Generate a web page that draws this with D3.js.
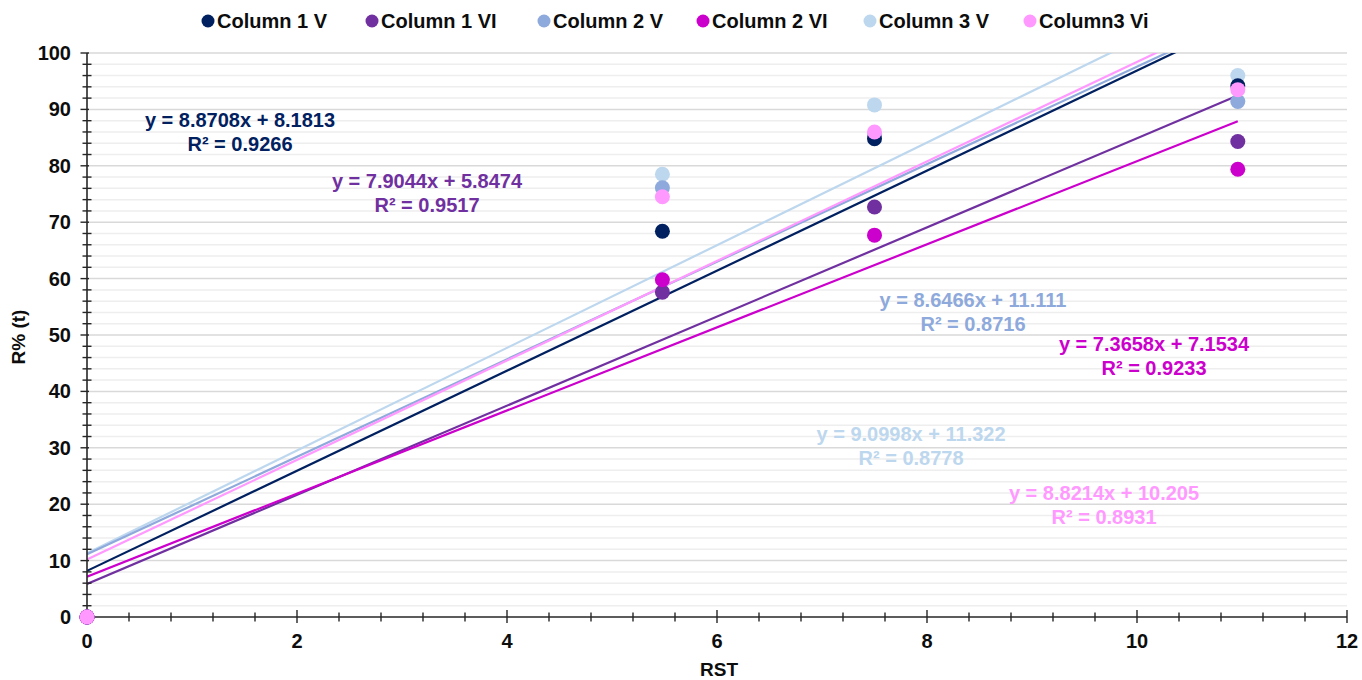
<!DOCTYPE html>
<html>
<head>
<meta charset="utf-8">
<script src="https://cdn.jsdelivr.net/npm/d3@7/dist/d3.min.js"></script>
<style>
  body { margin: 0; background: #fff; }
  svg { display: block; font-family: "Liberation Sans", Arial, sans-serif; }
</style>
</head>
<body>
<svg id="chart" width="1362" height="680"></svg>
<script>
// x positions (RST) shared by every series
const rst = [0, 5.48, 7.5, 10.96];

const seriesNames = ['Column 1 V', 'Column 1 VI', 'Column 2 V', 'Column 2 VI', 'Column 3 V', 'Column3 Vi'];
const seriesColors = ['#002060', '#7030A0', '#8EA9DB', '#CC00CC', '#BDD7EE', '#FF99FF'];

const col1V  = [0, 68.4, 84.8, 94.2];
const col1VI = [0, 57.6, 72.7, 84.3];
const col2V  = [0, 76.1, 85.4, 91.4];
const col2VI = [0, 59.8, 67.7, 79.4];
const col3V  = [0, 78.5, 90.8, 96.0];
const col3Vi = [0, 74.5, 86.0, 93.5];

// trendline slope / intercept / r2 as printed
const slopes     = [8.8708, 7.9044, 8.6466, 7.3658, 9.0998, 8.8214];
const intercepts = [8.1813, 5.8474, 11.111, 7.1534, 11.322, 10.205];
const r2         = ['0.9266', '0.9517', '0.8716', '0.9233', '0.8778', '0.8931'];
const eqText     = ['8.8708x + 8.1813', '7.9044x + 5.8474', '8.6466x + 11.111', '7.3658x + 7.1534', '9.0998x + 11.322', '8.8214x + 10.205'];
// label anchors in data units (centre, first baseline)
const labelX = [1.457, 3.238, 8.438, 10.162, 7.848, 9.686];
const labelY = [86.9, 76.1, 55.0, 47.2, 31.2, 20.7];

const values = [col1V, col1VI, col2V, col2VI, col3V, col3Vi];
// draw order: later on top
const drawOrder = [4, 2, 0, 1, 3, 5];

const svg = d3.select('#chart');
const x = d3.scaleLinear().domain([0, 12]).range([87, 1347]);
const y = d3.scaleLinear().domain([0, 100]).range([617, 53]);

// gridlines
svg.append('g').selectAll('line').data(d3.range(2, 101, 2).filter(v => v % 10 !== 0))
  .join('line').attr('x1', x(0)).attr('x2', x(12)).attr('y1', d => y(d)).attr('y2', d => y(d))
  .attr('stroke', '#eeeeee').attr('stroke-width', 1.5);
svg.append('g').selectAll('line').data(d3.range(10, 101, 10))
  .join('line').attr('x1', x(0)).attr('x2', x(12)).attr('y1', d => y(d)).attr('y2', d => y(d))
  .attr('stroke', '#d9d9d9').attr('stroke-width', 1.5);

// trendlines
svg.append('clipPath').attr('id', 'pc').append('rect')
  .attr('x', x(0)).attr('y', y(100)).attr('width', x(12) - x(0)).attr('height', y(0) - y(100));
const xMax = d3.max(rst);
const tl = svg.append('g').attr('clip-path', 'url(#pc)');
drawOrder.forEach(i => {
  tl.append('line')
    .attr('x1', x(0)).attr('y1', y(intercepts[i]))
    .attr('x2', x(xMax)).attr('y2', y(slopes[i] * xMax + intercepts[i]))
    .attr('stroke', seriesColors[i]).attr('stroke-width', 2.2);
});

// axes
const ax = svg.append('g').attr('stroke', '#262626');
ax.append('line').attr('x1', x(0)).attr('x2', x(12)).attr('y1', y(0)).attr('y2', y(0)).attr('stroke-width', 1.6);
ax.append('line').attr('x1', x(0)).attr('x2', x(0)).attr('y1', y(0)).attr('y2', y(100)).attr('stroke-width', 1.6);
ax.selectAll('.xm').data(d3.range(0, 12.01, 0.4).map(v => +v.toFixed(1))).join('line')
  .attr('x1', d => x(d)).attr('x2', d => x(d))
  .attr('y1', d => y(0) - (Math.abs(d % 2) < 1e-6 ? 7 : 4.5))
  .attr('y2', d => y(0) + (Math.abs(d % 2) < 1e-6 ? 6 : 4.5))
  .attr('stroke-width', 1.4);
ax.selectAll('.ym').data(d3.range(0, 101, 2)).join('line')
  .attr('y1', d => y(d)).attr('y2', d => y(d))
  .attr('x1', d => x(0) - (d % 10 === 0 ? 6.5 : 4.5))
  .attr('x2', d => x(0) + (d % 10 === 0 ? 2 : 4.5))
  .attr('stroke-width', 1.4);

// tick labels
svg.append('g').selectAll('text').data(d3.range(0, 13, 2)).join('text')
  .attr('x', d => x(d)).attr('y', 648).attr('text-anchor', 'middle')
  .attr('font-size', 20).attr('font-weight', 'bold').attr('fill', '#0d0d0d')
  .text(d => d);
svg.append('g').selectAll('text').data(d3.range(0, 101, 10)).join('text')
  .attr('x', 71).attr('y', d => y(d) + 7).attr('text-anchor', 'end')
  .attr('font-size', 20).attr('font-weight', 'bold').attr('fill', '#0d0d0d')
  .text(d => d);

// axis titles
svg.append('text').attr('x', 719).attr('y', 676).attr('text-anchor', 'middle')
  .attr('font-size', 19).attr('font-weight', 'bold').attr('fill', '#0d0d0d').text('RST');
svg.append('text').attr('transform', 'translate(25,337) rotate(-90)').attr('text-anchor', 'middle')
  .attr('font-size', 19).attr('font-weight', 'bold').attr('fill', '#0d0d0d').text('R% (t)');

// points
drawOrder.forEach(i => {
  svg.append('g').selectAll('circle').data(rst.map((r, k) => [r, values[i][k]])).join('circle')
    .attr('cx', d => x(d[0])).attr('cy', d => y(d[1])).attr('r', 7.5)
    .attr('fill', seriesColors[i]);
});

// equation labels
seriesNames.forEach((n, i) => {
  const g = svg.append('g').attr('font-size', 20).attr('font-weight', 'bold')
    .attr('fill', seriesColors[i]).attr('text-anchor', 'middle');
  g.append('text').attr('x', x(labelX[i])).attr('y', y(labelY[i])).text('y = ' + eqText[i]);
  g.append('text').attr('x', x(labelX[i])).attr('y', y(labelY[i]) + 24).text('R\u00b2 = ' + r2[i]);
});

// legend
const legX = [208, 372, 544, 703, 870, 1030];
const leg = svg.append('g');
seriesNames.forEach((n, i) => {
  leg.append('circle').attr('cx', legX[i]).attr('cy', 21).attr('r', 6.5).attr('fill', seriesColors[i]);
  leg.append('text').attr('x', legX[i] + 9).attr('y', 28).attr('font-size', 20).attr('font-weight', 'bold')
    .attr('fill', '#0d0d0d').text(n);
});
</script>
</body>
</html>
